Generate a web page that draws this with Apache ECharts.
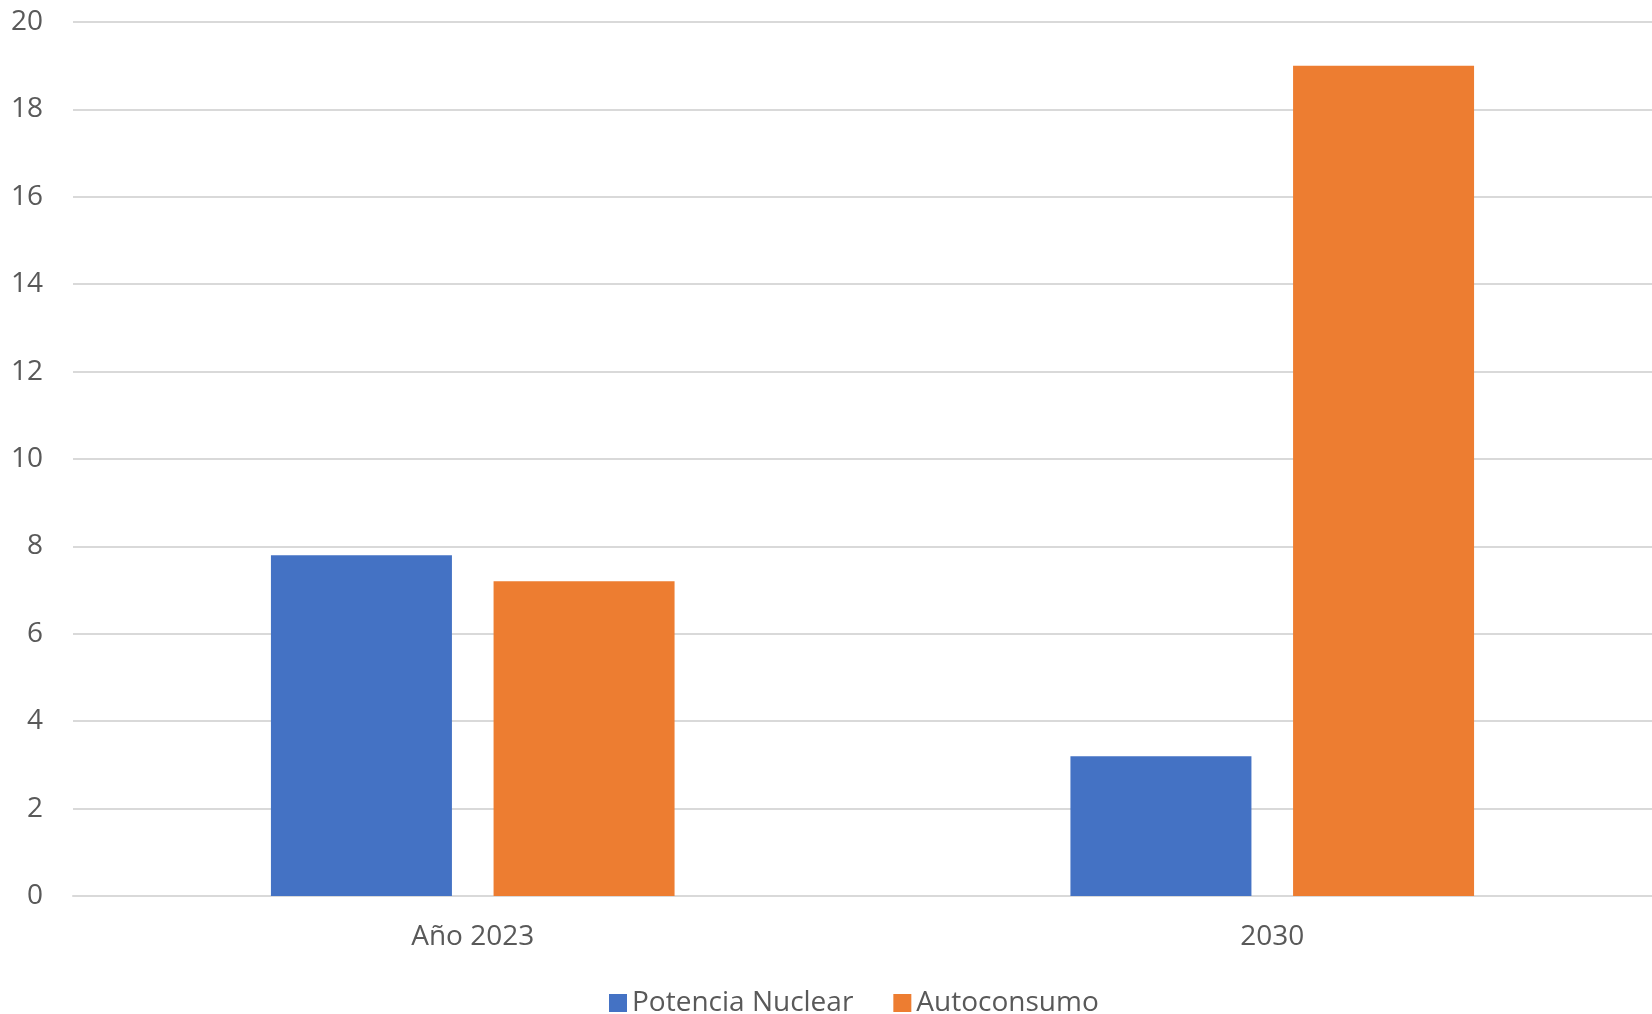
<!DOCTYPE html>
<html>
<head>
<meta charset="utf-8">
<script src="https://cdn.jsdelivr.net/npm/echarts@6/dist/echarts.min.js"></script>
<style>html,body{margin:0;padding:0;background:#fff;}#c{width:1652px;height:1014px;}</style>
</head>
<body>
<div id="c"></div>
<script>
var categories = ['Año 2023', '2030'];
var seriesNames = ['Potencia Nuclear', 'Autoconsumo'];
var nuclear = [7.8, 3.2];
var autoconsumo = [7.2, 19];
var yTicks = [0, 2, 4, 6, 8, 10, 12, 14, 16, 18, 20];

var FONT = 'Open Sans';
var TXT = '#595959';
var chart = echarts.init(document.getElementById('c'), null, {renderer: 'canvas'});
chart.setOption({
  animation: false,
  backgroundColor: '#ffffff',
  grid: {left: 73, width: 1599, top: 22, bottom: 118, containLabel: false, outerBoundsMode: 'none'},
  legend: {
    data: seriesNames,
    left: 604, top: 984,
    itemWidth: 18, itemHeight: 18, itemGap: 40,
    icon: 'rect',
    textStyle: {fontFamily: FONT, fontSize: 28, lineHeight: 28, color: TXT, padding: [0, 0, 0, 0]}
  },
  xAxis: {
    type: 'category',
    data: categories,
    axisLine: {show: true, lineStyle: {color: '#d9d9d9', width: 2}},
    axisTick: {show: false},
    axisLabel: {fontFamily: FONT, fontSize: 28, color: TXT, margin: 27}
  },
  yAxis: {
    type: 'value',
    min: yTicks[0], max: yTicks[yTicks.length - 1], interval: 2,
    axisLine: {show: false},
    axisTick: {show: false},
    splitLine: {lineStyle: {color: '#d9d9d9', width: 2}},
    axisLabel: {fontFamily: FONT, fontSize: 28, color: TXT, margin: 30}
  },
  series: [
    {name: seriesNames[0], type: 'bar', data: nuclear, barWidth: 181, barGap: '23%',
     itemStyle: {color: '#4472C4'}},
    {name: seriesNames[1], type: 'bar', data: autoconsumo, barWidth: 181, barGap: '23%',
     itemStyle: {color: '#ED7D31'}}
  ]
});
</script>
</body>
</html>
